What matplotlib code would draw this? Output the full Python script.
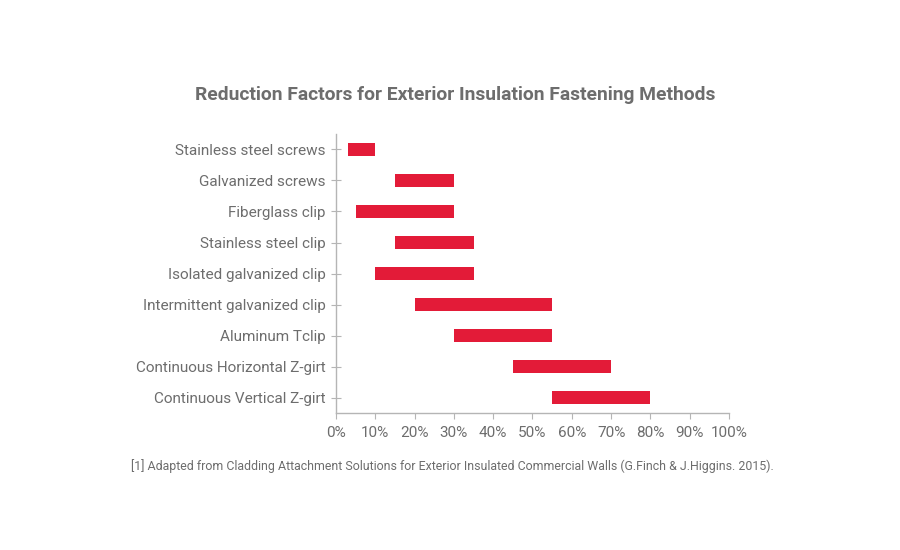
import matplotlib
matplotlib.use('Agg')
import matplotlib.pyplot as plt
from matplotlib.ticker import PercentFormatter

# fastening methods, top to bottom
methods = ['Stainless steel screws', 'Galvanized screws', 'Fiberglass clip',
           'Stainless steel clip', 'Isolated galvanized clip',
           'Intermittent galvanized clip', 'Aluminum Tclip',
           'Continuous Horizontal Z-girt', 'Continuous Vertical Z-girt']
low = [3, 15, 5, 15, 10, 20, 30, 45, 55]
high = [10, 30, 30, 35, 35, 55, 55, 70, 80]

text_col = '#6d6d6d'
axis_col = '#b5b5b5'
red = '#e31b38'

plt.rcParams['font.family'] = ['Roboto', 'DejaVu Sans']

fig = plt.figure(figsize=(9, 5.5), dpi=100)
ax = fig.add_axes([0.3733, 0.249, 0.4367, 0.5074])

ypos = list(range(len(methods)))
widths = [h - l for l, h in zip(low, high)]
ax.barh(ypos, widths, left=low, height=0.41, color=red)

ax.set_ylim(len(methods) - 0.5, -0.5)
ax.set_xlim(0, 100)
ax.set_yticks(ypos)
ax.set_yticklabels(methods)
ax.set_xticks(range(0, 101, 10))
ax.xaxis.set_major_formatter(PercentFormatter(decimals=0))

for s in ['top', 'right']:
    ax.spines[s].set_visible(False)
for s in ['left', 'bottom']:
    ax.spines[s].set_color(axis_col)
    ax.spines[s].set_linewidth(1)

ax.tick_params(axis='y', direction='inout', length=7, color=axis_col,
               labelcolor=text_col, labelsize=11, pad=4)
ax.tick_params(axis='x', direction='out', length=4, color=axis_col,
               labelcolor=text_col, labelsize=11, pad=5)

fig.text(0.5056, 0.827, 'Reduction Factors for Exterior Insulation Fastening Methods',
         ha='center', va='center', fontsize=13.9, fontweight='bold', color=text_col)
fig.text(0.1456, 0.152, '[1] Adapted from Cladding Attachment Solutions for Exterior Insulated '
         'Commercial Walls (G.Finch & J.Higgins. 2015).',
         ha='left', va='center', fontsize=8.9, color=text_col)

fig.savefig('out.png', dpi=100)
